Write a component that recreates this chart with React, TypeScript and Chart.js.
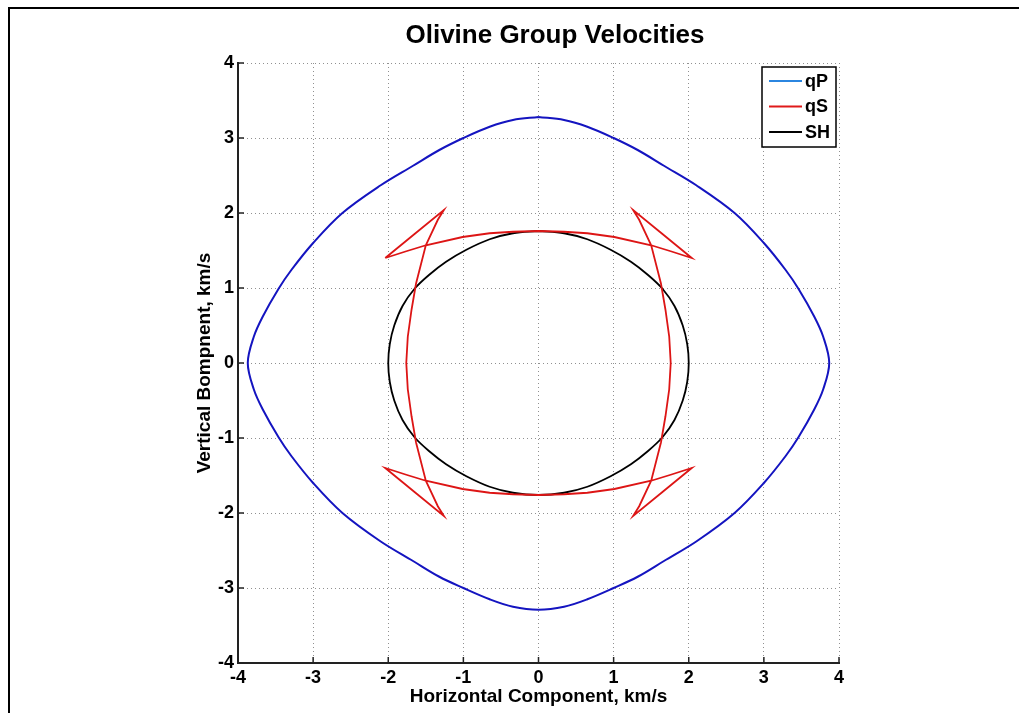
import { useEffect, useRef } from "react";
import { Chart, registerables } from "chart.js";

Chart.register(...registerables);

const TITLE = "Olivine Group Velocities";
const X_LABEL = "Horizontal Component, km/s";
const Y_LABEL = "Vertical Bompnent, km/s";
const TICK_VALUES = [-4, -3, -2, -1, 0, 1, 2, 3, 4];
const SERIES_NAMES = ["qP", "qS", "SH"];
const LINE_COLORS = ["#1414c0", "#dd1515", "#000000"];
const LEGEND_COLORS = ["#2b86e0", "#e01a1a", "#000000"];

// qP wavefront (closed loop)
const qpX = [
  0, -0.34, -0.65, -1.0, -1.32, -1.67, -2.1, -2.61, -3.0, -3.29, -3.46, -3.67, -3.79, -3.87,
  -3.79, -3.67, -3.46, -3.29, -3.0, -2.61, -2.1, -1.67, -1.32, -1.0, -0.65, -0.34, 0,
  0.34, 0.65, 1.0, 1.32, 1.67, 2.1, 2.61, 3.0, 3.29, 3.46, 3.67, 3.79, 3.87,
  3.79, 3.67, 3.46, 3.29, 3.0, 2.61, 2.1, 1.67, 1.32, 1.0, 0.65, 0.34, 0,
];
const qpY = [
  3.28, 3.24, 3.15, 3.0, 2.84, 2.63, 2.37, 2.0, 1.6, 1.24, 0.99, 0.62, 0.35, 0,
  -0.35, -0.62, -0.99, -1.24, -1.6, -2.0, -2.38, -2.64, -2.85, -3.0, -3.15, -3.25, -3.29,
  -3.25, -3.15, -3.0, -2.85, -2.64, -2.38, -2.0, -1.6, -1.24, -0.99, -0.62, -0.35, 0,
  0.35, 0.62, 0.99, 1.24, 1.6, 2.0, 2.37, 2.63, 2.84, 3.0, 3.15, 3.24, 3.28,
];

// qS wavefront with cusps (closed loop)
const qsX = [
  -2.04, -1.76, -1.5, -1.01, -0.65, -0.34, 0, 0.34, 0.65, 1.01, 1.5, 1.76, 2.04,
  1.65, 1.26, 1.34, 1.5, 1.63, 1.69, 1.74, 1.76, 1.74, 1.69, 1.63, 1.5, 1.34, 1.26,
  1.65, 2.04, 1.76, 1.5, 1.01, 0.65, 0.34, 0, -0.34, -0.65, -1.01, -1.5, -1.76, -2.04,
  -1.65, -1.26, -1.34, -1.5, -1.63, -1.69, -1.74, -1.76, -1.74, -1.69, -1.63, -1.5, -1.34, -1.26,
  -1.65, -2.04,
];
const qsY = [
  1.4, 1.49, 1.57, 1.68, 1.73, 1.75, 1.76, 1.75, 1.73, 1.68, 1.57, 1.49, 1.4,
  1.72, 2.04, 1.91, 1.57, 1.06, 0.71, 0.35, 0, -0.35, -0.71, -1.06, -1.57, -1.91, -2.04,
  -1.72, -1.4, -1.49, -1.57, -1.68, -1.73, -1.75, -1.76, -1.75, -1.73, -1.68, -1.57, -1.49, -1.4,
  -1.72, -2.04, -1.91, -1.57, -1.06, -0.71, -0.35, 0, 0.35, 0.71, 1.06, 1.57, 1.91, 2.04,
  1.72, 1.4,
];

// SH wavefront (closed loop)
const shX = [
  0, -0.34, -0.65, -0.96, -1.23, -1.45, -1.65, -1.81, -1.92, -1.98, -2.0,
  -1.98, -1.92, -1.81, -1.65, -1.45, -1.23, -0.96, -0.65, -0.34, 0,
  0.34, 0.65, 0.96, 1.23, 1.45, 1.65, 1.81, 1.92, 1.98, 2.0,
  1.98, 1.92, 1.81, 1.65, 1.45, 1.23, 0.96, 0.65, 0.34, 0,
];
const shY = [
  1.76, 1.73, 1.65, 1.51, 1.35, 1.18, 0.99, 0.76, 0.5, 0.25, 0,
  -0.25, -0.5, -0.76, -0.99, -1.18, -1.35, -1.51, -1.65, -1.73, -1.76,
  -1.73, -1.65, -1.51, -1.35, -1.18, -0.99, -0.76, -0.5, -0.25, 0,
  0.25, 0.5, 0.76, 0.99, 1.18, 1.35, 1.51, 1.65, 1.73, 1.76,
];

const FONT = '"Liberation Sans", Arial, Helvetica, sans-serif';

const zip = (xs: number[], ys: number[]) => xs.map((x, i) => ({ x, y: ys[i] }));

const decorPlugin = {
  id: "decor",
  afterDraw(chart: any) {
    const ctx: CanvasRenderingContext2D = chart.ctx;
    const { left, right, top, bottom } = chart.chartArea;
    const xs = chart.scales.x;
    const ys = chart.scales.y;
    ctx.save();

    // figure frame
    ctx.strokeStyle = "#000";
    ctx.lineWidth = 2;
    ctx.beginPath();
    ctx.moveTo(9, 713);
    ctx.lineTo(9, 8);
    ctx.lineTo(1019, 8);
    ctx.stroke();

    // inward tick marks
    ctx.strokeStyle = "#222";
    ctx.lineWidth = 1.5;
    TICK_VALUES.forEach((v) => {
      const px = xs.getPixelForValue(v);
      ctx.beginPath();
      ctx.moveTo(px, bottom);
      ctx.lineTo(px, bottom - 6);
      ctx.stroke();
      const py = ys.getPixelForValue(v);
      ctx.beginPath();
      ctx.moveTo(left, py);
      ctx.lineTo(left + 6, py);
      ctx.stroke();
    });

    // title and axis labels
    ctx.fillStyle = "#000";
    ctx.textAlign = "center";
    ctx.textBaseline = "middle";
    ctx.font = `bold 26px ${FONT}`;
    ctx.fillText(TITLE, 555, 36);
    ctx.font = `bold 19px ${FONT}`;
    ctx.fillText(X_LABEL, (left + right) / 2, 697);
    ctx.save();
    ctx.translate(205, (top + bottom) / 2);
    ctx.rotate(-Math.PI / 2);
    ctx.fillText(Y_LABEL, 0, 0);
    ctx.restore();

    // legend
    const bx = 762, by = 67, bw = 74, bh = 80;
    ctx.fillStyle = "#fff";
    ctx.fillRect(bx, by, bw, bh);
    ctx.strokeStyle = "#000";
    ctx.lineWidth = 1.5;
    ctx.strokeRect(bx, by, bw, bh);
    const rows = [81, 106.5, 132];
    chart.data.datasets.forEach((ds: any, i: number) => {
      ctx.strokeStyle = LEGEND_COLORS[i];
      ctx.lineWidth = 2;
      ctx.beginPath();
      ctx.moveTo(769, rows[i]);
      ctx.lineTo(802, rows[i]);
      ctx.stroke();
      ctx.fillStyle = "#000";
      ctx.textAlign = "left";
      ctx.font = `bold 18px ${FONT}`;
      ctx.fillText(ds.label, 805, rows[i] + 1);
    });
    ctx.restore();
  },
};

export default function App() {
  const ref = useRef<HTMLCanvasElement | null>(null);

  useEffect(() => {
    if (!ref.current) return;
    const seriesData = [zip(qpX, qpY), zip(qsX, qsY), zip(shX, shY)];
    const tensions = [0.35, 0, 0.35];
    const widths = [2, 1.8, 1.8];
    const tickFont = { family: FONT, size: 18, weight: "bold" as const };
    const chart = new Chart(ref.current, {
      type: "scatter",
      data: {
        datasets: SERIES_NAMES.map((name, i) => ({
          label: name,
          data: seriesData[i],
          showLine: true,
          borderColor: LINE_COLORS[i],
          backgroundColor: LINE_COLORS[i],
          borderWidth: widths[i],
          pointRadius: 0,
          tension: tensions[i],
          fill: false,
        })),
      },
      options: {
        animation: false,
        responsive: false,
        devicePixelRatio: 1,
        layout: { padding: { left: 0, right: 180, top: 63, bottom: 0 } },
        plugins: {
          legend: { display: false },
          title: { display: false },
          tooltip: { enabled: false },
        },
        scales: {
          x: {
            type: "linear",
            min: -4,
            max: 4,
            afterFit: (s: any) => {
              s.height = 50;
            },
            ticks: {
              stepSize: 1,
              color: "#000",
              font: tickFont,
              padding: 4,
              maxRotation: 0,
              callback: (v: any) => String(v),
            },
            grid: { color: "#909090", lineWidth: 1, drawTicks: false },
            border: { display: true, color: "#222", width: 2, dash: [1, 3] },
          },
          y: {
            type: "linear",
            min: -4,
            max: 4,
            afterFit: (s: any) => {
              s.width = 238;
            },
            ticks: {
              stepSize: 1,
              color: "#000",
              font: tickFont,
              padding: 4,
              callback: (v: any) => String(v),
            },
            grid: { color: "#909090", lineWidth: 1, drawTicks: false },
            border: { display: true, color: "#222", width: 2, dash: [1, 3] },
          },
        },
      },
      plugins: [decorPlugin],
    });
    return () => chart.destroy();
  }, []);

  return (
    <div style={{ position: "fixed", left: 0, top: 0, width: 1019, height: 713, background: "#fff" }}>
      <canvas ref={ref} width={1019} height={713} style={{ display: "block" }} />
    </div>
  );
}
